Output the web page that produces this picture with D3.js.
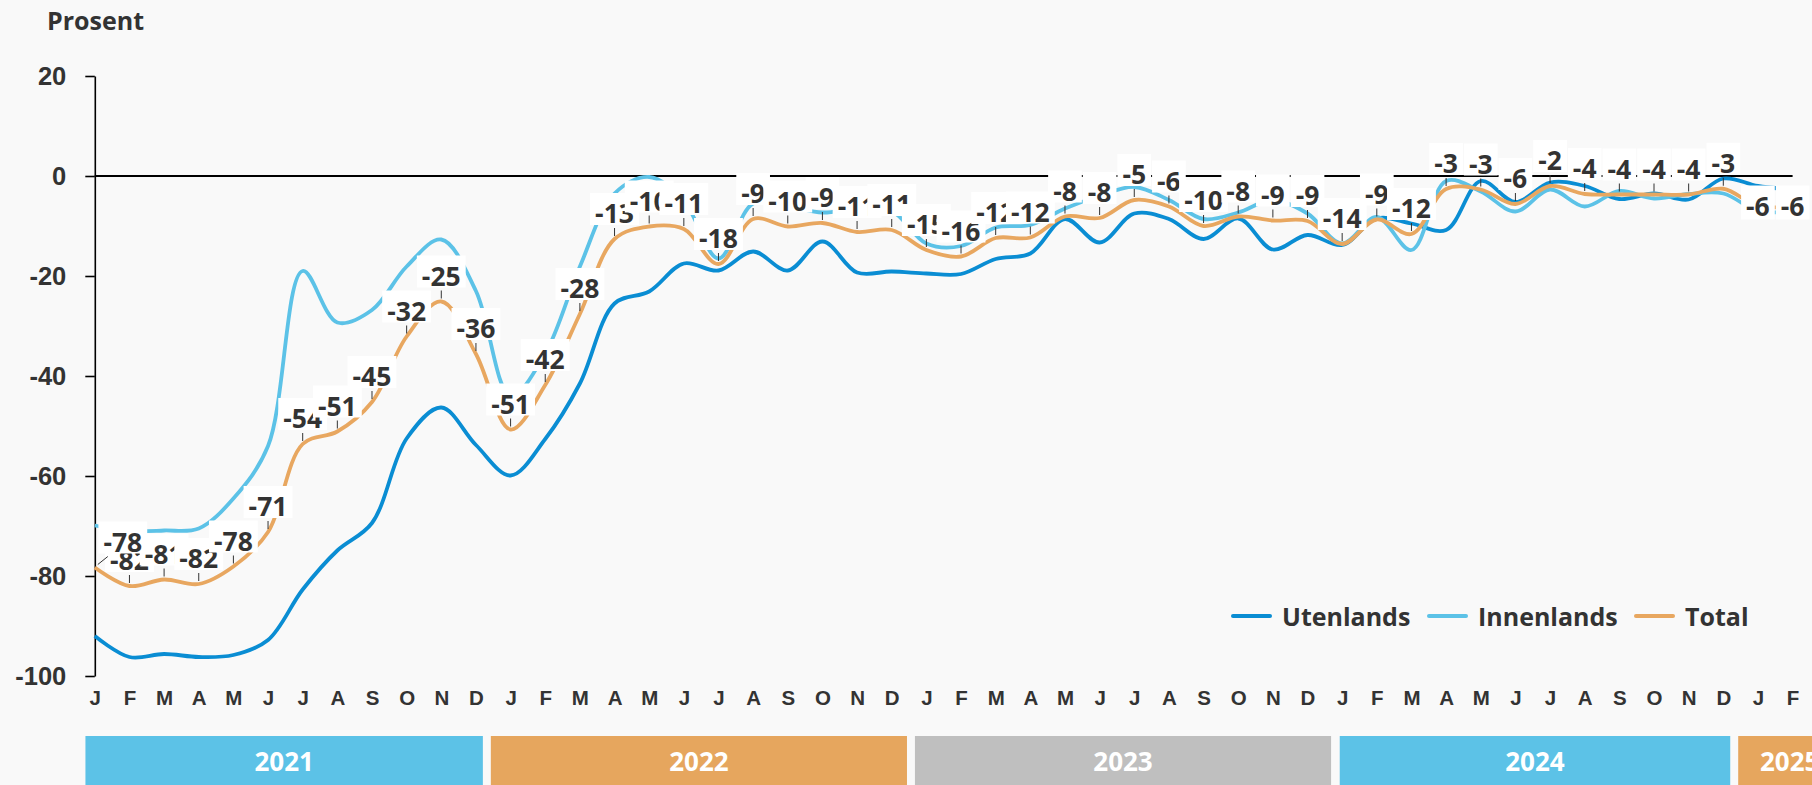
<!DOCTYPE html>
<html>
<head>
<meta charset="utf-8">
<script src="https://cdn.jsdelivr.net/npm/d3@7"></script>
<style>
    body { margin: 0; background: #f9f9f9; }
    svg { display: block; font-family: 'Open Sans', 'Noto Sans', sans-serif; font-weight: 700; }
</style>
</head>
<body>
<svg class="co-svg"></svg>
<script>

const monthLetters = [ 'J', 'F', 'M', 'A', 'M', 'J', 'J', 'A', 'S', 'O', 'N', 'D' ]
const years = [ '2021', '2022', '2023', '2024', '2025' ]
const yTicks = [ 20, 0, -20, -40, -60, -80, -100 ]
const seriesNames = [ 'Utenlands', 'Innenlands', 'Total' ]

const utenlands = [
    -92.0, -96.2, -95.6, -96.2, -95.8, -92.8, -82.7, -74.9, -69.4, -52.5, -46.3, -53.8,
    -59.9, -52.6, -41.5, -25.5, -23.1, -17.5, -18.9, -15.1, -18.9, -13.1, -19.3, -19.1,
    -19.5, -19.6, -16.6, -15.5, -8.6, -13.3, -7.5, -8.6, -12.6, -8.5, -14.7, -11.8,
    -13.8, -8.5, -9.5, -10.8, -1.0, -5.2, -1.3, -2.0, -4.6, -3.5, -4.7, -0.5,
    -2.0, -2.7
]

const innenlands = [
    -69.9, -71.0, -70.9, -70.5, -64.5, -54.0, -19.0, -29.3, -26.8, -18.1, -12.7, -23.0,
    -44.0, -35.5, -18.1, -3.5, -0.2, -5.0, -16.5, -5.5, -6.0, -7.3, -6.5, -7.0,
    -13.5, -14.0, -10.3, -9.8, -6.5, -4.0, -2.2, -4.8, -8.6, -7.3, -4.8, -7.5,
    -13.5, -8.2, -14.8, -1.0, -3.1, -7.1, -2.7, -6.1, -3.0, -4.5, -3.6, -3.5,
    -7.0, -7.0
]

const total = [
    -78.3, -82.0, -80.7, -81.6, -78.1, -71.2, -53.6, -51.1, -45.2, -32.1, -25.1, -35.6,
    -50.7, -41.8, -27.6, -12.6, -10.1, -10.6, -17.6, -8.6, -10.1, -9.4, -11.2, -10.8,
    -14.8, -16.1, -12.4, -12.3, -8.1, -8.4, -4.8, -6.1, -10.0, -8.1, -8.9, -9.0,
    -13.6, -8.7, -11.6, -2.6, -2.7, -5.6, -2.0, -3.6, -3.7, -3.7, -3.7, -2.55,
    -6.0, -6.0
]

const draw = () => {

    const width = 1812
    const height = 785
    const bg = '#f9f9f9'
    const ink = '#333333'

    const colors = {
        Utenlands: '#0a8dd3',
        Innenlands: '#5cc2e7',
        Total: '#e8a760'
    }
    const yearColors = [ '#5cc2e7', '#e6a65e', '#bfbfbf', '#5cc2e7', '#e6a65e' ]
    // year bars in month units, they do not sit exactly on the months
    const yearSpan = [ [ -0.27, 11.2 ], [ 11.43, 23.44 ], [ 23.67, 35.68 ], [ 35.93, 47.2 ], [ 47.43, 50.4 ] ]

    const svg = d3.select('.co-svg')
        .attr('width', width)
        .attr('height', height)

    svg.append('rect')
        .attr('width', width)
        .attr('height', height)
        .attr('fill', bg)

    const x = d3.scaleLinear()
        .domain([ 0, total.length - 1 ])
        .range([ 94.8, 1792.6 ])

    const y = d3.scaleLinear()
        .domain([ -100, 20 ])
        .range([ 676, 76 ])

    svg.append('text')
        .attr('x', 47)
        .attr('y', 30)
        .attr('font-size', 25)
        .attr('fill', ink)
        .text('Prosent')

    const yAxis = svg.append('g')
        .attr('transform', `translate(${x(0)},0)`)
        .call(d3.axisLeft(y).tickValues(yTicks).tickSize(9.5).tickSizeOuter(0).tickPadding(19).tickFormat(d3.format('d')))

    yAxis.select('.domain').attr('stroke', '#000').attr('stroke-width', 1.6)
    yAxis.selectAll('.tick line').attr('stroke', '#000').attr('stroke-width', 1.6)
    yAxis.selectAll('.tick text')
        .attr('font-size', 25.5)
        .attr('font-family', null)
        .attr('fill', ink)
        .text(d => d < 0 ? '-' + Math.abs(d) : d)

    svg.append('line')
        .attr('x1', x(0))
        .attr('x2', x(total.length - 1))
        .attr('y1', y(0))
        .attr('y2', y(0))
        .attr('stroke', '#000')
        .attr('stroke-width', 2)

    const xAxis = svg.append('g')
        .attr('transform', `translate(0,${y(-100)})`)
        .call(d3.axisBottom(x).tickValues(d3.range(total.length)).tickSize(0).tickPadding(14).tickFormat(i => monthLetters[i % 12]))

    xAxis.select('.domain').remove()
    xAxis.selectAll('.tick text')
        .attr('font-size', 20.5)
        .attr('font-family', null)
        .attr('fill', ink)

    const yearGs = svg.selectAll('.co-year')
        .data(years)
        .enter()
        .append('g')
        .attr('class', 'co-year')

    yearGs.append('rect')
        .attr('x', (d, i) => x(yearSpan[i][0]))
        .attr('width', (d, i) => x(yearSpan[i][1]) - x(yearSpan[i][0]))
        .attr('y', 736)
        .attr('height', 60)
        .attr('fill', (d, i) => yearColors[i])

    yearGs.append('text')
        .attr('x', (d, i) => (x(yearSpan[i][0]) + x(yearSpan[i][1])) / 2)
        .attr('y', 771)
        .attr('text-anchor', 'middle')
        .attr('font-size', 26)
        .attr('fill', '#fff')
        .text(d => d)

    const series = [ utenlands, innenlands, total ]

    const line = d3.line()
        .x((d, i) => x(i))
        .y(d => y(d))
        .curve(d3.curveCatmullRom.alpha(0.5))

    svg.selectAll('.co-line')
        .data(series)
        .enter()
        .append('path')
        .attr('class', 'co-line')
        .attr('d', d => line(d))
        .attr('fill', 'none')
        .attr('stroke', (d, i) => colors[seriesNames[i]])
        .attr('stroke-width', 3.8)
        .attr('stroke-linejoin', 'round')

    // data labels on the total, white box, small leader down to the point
    const labelShift = { 0: 28 }
    const centered = [ 48, 49 ]
    const labelLayer = svg.append('g')

    // shifted labels go last so they sit on top
    const order = d3.range(total.length).sort((a, b) => (labelShift[a] ? 1 : 0) - (labelShift[b] ? 1 : 0) || a - b)

    order.forEach(i => {

        const v = total[i]
        const px = x(i)
        const py = y(v)
        const isCentered = centered.includes(i)
        const dx = labelShift[i] || 0
        const tx = px + dx
        const base = isCentered ? py + 9.5 : py - 16

        const g = labelLayer.append('g')

        if(!isCentered) {
            g.append('line')
                .attr('x1', px + (dx ? 3 : 0))
                .attr('y1', py - 3)
                .attr('x2', px + (dx ? 13 : 0))
                .attr('y2', py - 11)
                .attr('stroke', ink)
                .attr('stroke-width', 1)
        }

        const rect = g.append('rect')

        const t = g.append('text')
            .attr('x', tx)
            .attr('y', base)
            .attr('text-anchor', 'middle')
            .attr('font-size', 26.5)
            .attr('fill', ink)
            .text(Math.round(v))

        const w = t.node().getComputedTextLength()

        rect
            .attr('x', tx - w/2 - 5)
            .attr('y', base - 30)
            .attr('width', w + 10)
            .attr('height', isCentered ? 34 : 32)
            .attr('fill', '#fff')

    })

    const legendX = [ 1233, 1429, 1636 ]
    const legendGs = svg.selectAll('.co-legend')
        .data(seriesNames)
        .enter()
        .append('g')
        .attr('class', 'co-legend')
        .attr('transform', (d, i) => `translate(${legendX[i]},616)`)

    legendGs.append('line')
        .attr('x1', 0)
        .attr('x2', 37)
        .attr('stroke', d => colors[d])
        .attr('stroke-width', 4)
        .attr('stroke-linecap', 'round')

    legendGs.append('text')
        .attr('x', 49)
        .attr('y', 10)
        .attr('font-size', 25)
        .attr('fill', ink)
        .text(d => d)

}

draw()
</script>
</body>
</html>
